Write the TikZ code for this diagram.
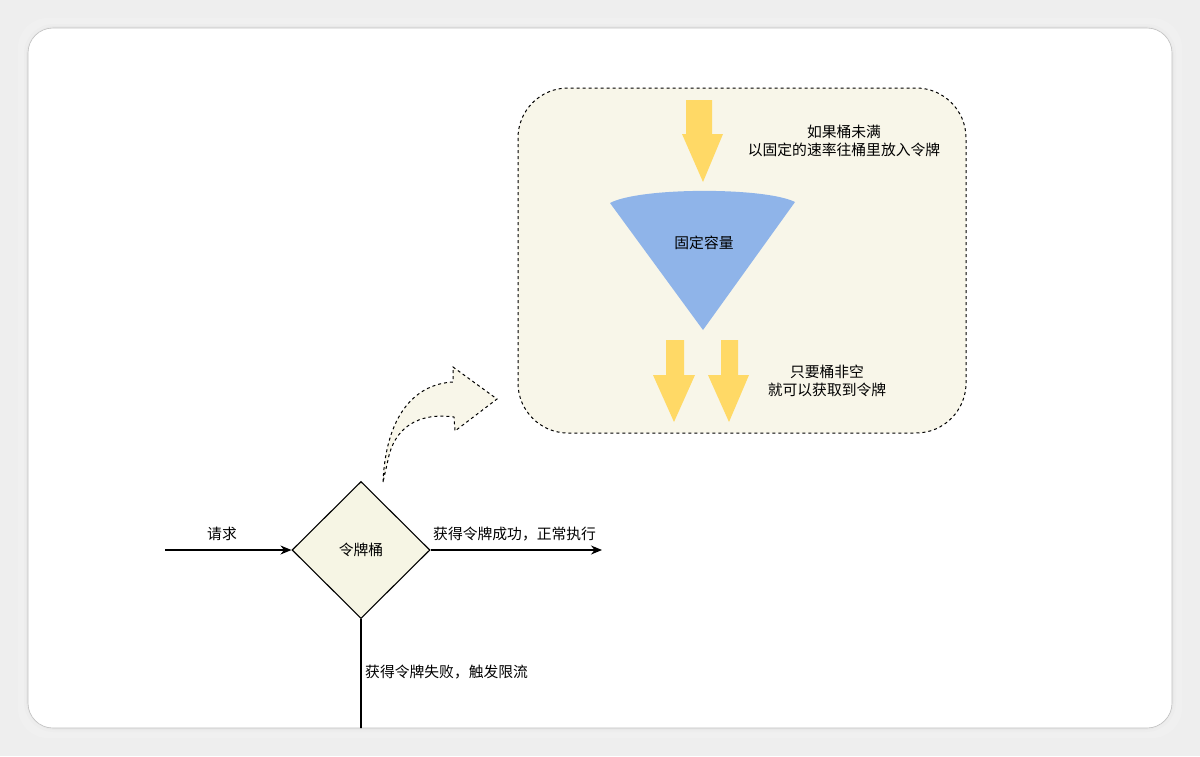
\documentclass[tikz,border=0pt]{standalone}
\usepackage{fontspec}
\setmainfont{Noto Sans CJK SC}
\usetikzlibrary{shapes.geometric,arrows.meta}
\definecolor{pagebg}{HTML}{EEEEEE}
\definecolor{beige}{HTML}{F8F6E9}
\definecolor{diamondfill}{HTML}{F6F5E4}
\definecolor{tokyellow}{HTML}{FFD966}
\definecolor{funnelblue}{HTML}{8FB4E9}
\tikzset{
  lbl/.style={font=\fontsize{14.8}{18.5}\selectfont, text=black, inner sep=0pt},
  yarrow/.style={fill=tokyellow, draw=none},
  conn/.style={draw=black, line width=1.1pt, -{Stealth[length=11pt,width=9pt]}},
  plain/.style={draw=black, line width=1.1pt},
}
\begin{document}
\begin{tikzpicture}[x=1pt,y=-1pt]
\useasboundingbox (0,0) rectangle (1200,756);
% page background and frame
\fill[pagebg] (0,0) rectangle (1200,756);
\foreach \d/\c in {10/97,7/94,4/90,2/86}{
  \fill[black!\the\numexpr100-\c\relax!white, opacity=0.25, rounded corners=30pt] (28-\d,28-\d) rectangle (1172+\d,728+\d);
}
\fill[white, draw=black!25, line width=0.6pt, rounded corners=25pt] (28,28) rectangle (1172,728);
\begin{scope}
\clip[rounded corners=25pt] (28,28) rectangle (1172,728);
% dashed container
\draw[fill=beige, dashed, line width=1pt, rounded corners=50pt] (518,88) rectangle (966,433);
% top yellow arrow
\path[yarrow] (686,100) -- (712,100) -- (712,134) -- (723,134) -- (703,182) -- (682,134) -- (686,134) -- cycle;
% funnel
\path[fill=funnelblue] (610,203) .. controls (640,187) and (765,187) .. (795,202) -- (703,330) -- cycle;
\node[lbl] (cap) at (704,243) {固定容量};
\node[lbl, align=center] (topnote) at (844,141) {如果桶未满\\以固定的速率往桶里放入令牌};
% bottom yellow arrows
\path[yarrow] (666,340) -- (684,340) -- (684,375) -- (695,375) -- (674,422) -- (653,375) -- (666,375) -- cycle;
\path[yarrow] (721,340) -- (738,340) -- (738,375) -- (749,375) -- (729,422) -- (708,375) -- (721,375) -- cycle;
\node[lbl, align=center] (botnote) at (827,381) {只要桶非空\\就可以获取到令牌};
% curved dashed arrow
\draw[fill=beige, dashed, line width=1pt]
  (383,482) .. controls (386,415) and (415,384) .. (453,382) -- (453,367) -- (497,399) -- (455,431) -- (454,417)
  .. controls (418,412) and (394,428) .. (388,460) -- cycle;
% diamond
\node[diamond, draw=black, line width=1.1pt, fill=diamondfill, minimum width=138pt, minimum height=137pt, inner sep=0pt] (bucket) at (361,550) {};
\node[lbl] (bucketlbl) at (bucket.center) {令牌桶};
\coordinate (start) at (165,550);
\coordinate (okend) at (602,550);
\coordinate (failend) at (361,740);
\draw[conn] (start) -- (bucket.west);
\draw[conn] (bucket.east) -- (okend);
\draw[plain] (bucket.south) -- (failend);
\node[lbl] (req) at (222,534) {请求};
\node[lbl, anchor=west] (ok) at (433,534) {获得令牌成功，正常执行};
\node[lbl, anchor=west] (fail) at (365,672) {获得令牌失败，触发限流};
\end{scope}
\end{tikzpicture}
\end{document}
